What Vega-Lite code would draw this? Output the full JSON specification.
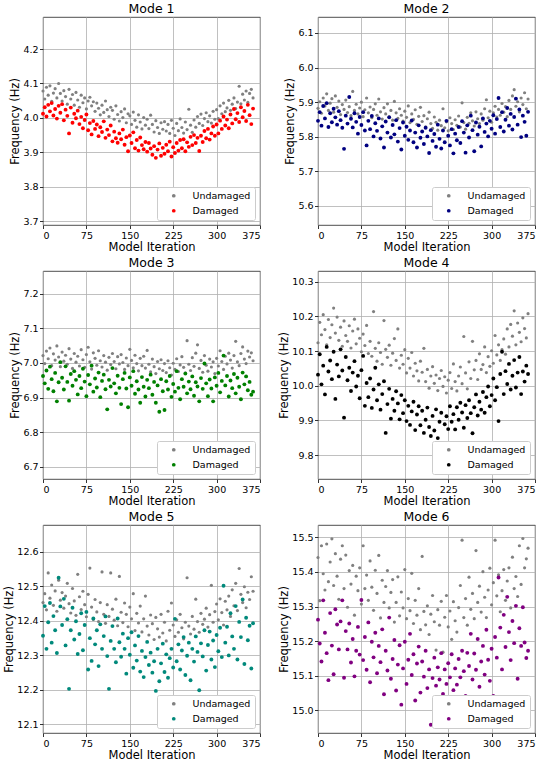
{
  "$schema": "https://vega.github.io/schema/vega-lite/v6.json",
  "padding": {"left": 3, "top": 2, "right": 0, "bottom": 0},
  "columns": 2,
  "bounds": "flush",
  "spacing": {"row": 46, "column": 58},
  "config": {
    "font": "DejaVu Sans",
    "view": {"stroke": "#222222", "strokeWidth": 0.8},
    "axis": {
      "grid": true, "gridColor": "#b0b0b0", "gridWidth": 0.8, "domain": false,
      "tickColor": "#000000", "tickSize": 3.5, "tickWidth": 0.8,
      "labelFontSize": 9.5, "labelColor": "#000000", "labelPadding": 1.5,
      "titleFontSize": 11.5, "titleFontWeight": "normal", "titleColor": "#000000", "titlePadding": 2
    },
    "title": {"fontSize": 12.5, "fontWeight": "normal", "color": "#000000", "offset": 2},
    "legend": {
      "orient": "bottom-right", "offset": 5, "padding": 4,
      "strokeColor": "#cccccc", "fillColor": "#ffffff", "cornerRadius": 2,
      "symbolType": "circle", "symbolSize": 14, "symbolOffset": 8,
      "labelFontSize": 9.5, "labelColor": "#000000", "labelOffset": 14, "rowPadding": 4
    }
  },
  "resolve": {
    "scale": {"x": "independent", "y": "independent", "color": "independent"},
    "legend": {"color": "independent"}
  },
  "datasets": {
    "m1": [
      {"i":0,"u":4.078,"d":4.012},{"i":3,"u":4.055,"d":4.031},{"i":6,"u":4.089,"d":4.004},{"i":9,"u":4.066,"d":4.038},{"i":12,"u":4.093,"d":4.019},
      {"i":15,"u":4.048,"d":4.043},{"i":18,"u":4.072,"d":4.007},{"i":21,"u":4.085,"d":4.026},{"i":24,"u":4.058,"d":3.998},{"i":27,"u":4.100,"d":4.035},
      {"i":30,"u":4.071,"d":4.015},{"i":33,"u":4.049,"d":4.040},{"i":36,"u":4.079,"d":3.993},{"i":39,"u":4.062,"d":4.024},{"i":42,"u":4.040,"d":4.006},
      {"i":45,"u":4.083,"d":3.955},{"i":48,"u":4.055,"d":4.030},{"i":51,"u":4.068,"d":3.986},{"i":54,"u":4.037,"d":4.012},{"i":57,"u":4.074,"d":3.999},
      {"i":60,"u":4.052,"d":4.021},{"i":63,"u":4.031,"d":3.982},{"i":66,"u":4.066,"d":4.003},{"i":69,"u":4.044,"d":3.970},{"i":72,"u":4.058,"d":3.994},
      {"i":75,"u":4.026,"d":4.010},{"i":78,"u":4.049,"d":3.964},{"i":81,"u":4.060,"d":3.985},{"i":84,"u":4.035,"d":3.952},{"i":87,"u":4.047,"d":3.991},
      {"i":90,"u":4.019,"d":3.968},{"i":93,"u":4.043,"d":3.981},{"i":96,"u":4.028,"d":3.947},{"i":99,"u":4.009,"d":3.973},{"i":102,"u":4.037,"d":3.959},
      {"i":105,"u":4.016,"d":3.990},{"i":108,"u":4.049,"d":3.942},{"i":111,"u":4.024,"d":3.966},{"i":114,"u":4.004,"d":3.950},{"i":117,"u":4.031,"d":3.978},
      {"i":120,"u":4.022,"d":3.932},{"i":123,"u":3.996,"d":3.960},{"i":126,"u":4.035,"d":3.941},{"i":129,"u":4.010,"d":3.928},{"i":132,"u":3.991,"d":3.955},
      {"i":135,"u":4.018,"d":3.938},{"i":138,"u":4.001,"d":3.966},{"i":141,"u":4.026,"d":3.922},{"i":144,"u":3.986,"d":3.944},{"i":147,"u":4.012,"d":3.903},
      {"i":150,"u":4.006,"d":3.949},{"i":153,"u":3.981,"d":3.927},{"i":156,"u":4.017,"d":3.958},{"i":159,"u":3.993,"d":3.912},{"i":162,"u":3.973,"d":3.936},
      {"i":165,"u":4.009,"d":3.905},{"i":168,"u":3.988,"d":3.943},{"i":171,"u":3.968,"d":3.921},{"i":174,"u":4.001,"d":3.909},{"i":177,"u":3.979,"d":3.930},
      {"i":180,"u":3.996,"d":3.902},{"i":183,"u":3.969,"d":3.927},{"i":186,"u":4.008,"d":3.911},{"i":189,"u":3.981,"d":3.893},{"i":192,"u":3.959,"d":3.918},
      {"i":195,"u":3.992,"d":3.884},{"i":198,"u":3.972,"d":3.908},{"i":201,"u":3.955,"d":3.926},{"i":204,"u":3.986,"d":3.890},{"i":207,"u":3.967,"d":3.913},
      {"i":210,"u":3.989,"d":3.896},{"i":213,"u":3.962,"d":3.922},{"i":216,"u":3.981,"d":3.903},{"i":219,"u":3.955,"d":3.931},{"i":222,"u":3.993,"d":3.888},
      {"i":225,"u":3.970,"d":3.915},{"i":228,"u":3.949,"d":3.898},{"i":231,"u":3.984,"d":3.927},{"i":234,"u":3.963,"d":3.905},{"i":237,"u":3.997,"d":3.936},
      {"i":240,"u":3.972,"d":3.912},{"i":243,"u":3.956,"d":3.938},{"i":246,"u":3.988,"d":3.903},{"i":249,"u":3.966,"d":3.929},{"i":252,"u":4.025,"d":3.916},
      {"i":255,"u":3.979,"d":3.945},{"i":258,"u":3.958,"d":3.921},{"i":261,"u":3.994,"d":3.950},{"i":264,"u":3.973,"d":3.927},{"i":267,"u":4.004,"d":3.942},
      {"i":270,"u":3.984,"d":3.904},{"i":273,"u":4.011,"d":3.948},{"i":276,"u":3.978,"d":3.930},{"i":279,"u":3.998,"d":3.962},{"i":282,"u":4.015,"d":3.941},
      {"i":285,"u":3.989,"d":3.968},{"i":288,"u":4.006,"d":3.937},{"i":291,"u":3.985,"d":3.955},{"i":294,"u":4.019,"d":3.975},{"i":297,"u":3.996,"d":3.948},
      {"i":300,"u":4.024,"d":3.981},{"i":303,"u":3.998,"d":3.955},{"i":306,"u":4.035,"d":3.992},{"i":309,"u":4.012,"d":3.968},{"i":312,"u":4.043,"d":4.004},
      {"i":315,"u":4.018,"d":3.978},{"i":318,"u":4.029,"d":3.995},{"i":321,"u":4.051,"d":3.970},{"i":324,"u":4.022,"d":4.010},{"i":327,"u":4.040,"d":3.984},
      {"i":330,"u":4.058,"d":4.026},{"i":333,"u":4.027,"d":3.996},{"i":336,"u":4.046,"d":4.014},{"i":339,"u":4.092,"d":3.988},{"i":342,"u":4.041,"d":4.031},
      {"i":345,"u":4.069,"d":4.002},{"i":348,"u":4.052,"d":4.020},{"i":351,"u":4.078,"d":3.991},{"i":354,"u":4.045,"d":4.038},{"i":357,"u":4.071,"d":4.008},
      {"i":360,"u":4.083,"d":3.982},{"i":363,"u":4.058,"d":4.027}
    ],
    "m2": [
      {"i":0,"u":5.882,"d":5.846},{"i":3,"u":5.901,"d":5.871},{"i":6,"u":5.868,"d":5.832},{"i":9,"u":5.912,"d":5.889},{"i":12,"u":5.889,"d":5.853},
      {"i":15,"u":5.924,"d":5.897},{"i":18,"u":5.876,"d":5.828},{"i":21,"u":5.897,"d":5.868},{"i":24,"u":5.910,"d":5.842},{"i":27,"u":5.871,"d":5.881},
      {"i":30,"u":5.918,"d":5.856},{"i":33,"u":5.885,"d":5.835},{"i":36,"u":5.903,"d":5.874},{"i":39,"u":5.864,"d":5.848},{"i":42,"u":5.893,"d":5.826},
      {"i":45,"u":5.879,"d":5.765},{"i":48,"u":5.906,"d":5.861},{"i":51,"u":5.870,"d":5.838},{"i":54,"u":5.887,"d":5.915},{"i":57,"u":5.861,"d":5.852},
      {"i":60,"u":5.931,"d":5.827},{"i":63,"u":5.876,"d":5.868},{"i":66,"u":5.894,"d":5.843},{"i":69,"u":5.866,"d":5.809},{"i":72,"u":5.883,"d":5.857},
      {"i":75,"u":5.900,"d":5.834},{"i":78,"u":5.858,"d":5.871},{"i":81,"u":5.878,"d":5.818},{"i":84,"u":5.912,"d":5.775},{"i":87,"u":5.869,"d":5.846},
      {"i":90,"u":5.886,"d":5.822},{"i":93,"u":5.855,"d":5.860},{"i":96,"u":5.879,"d":5.801},{"i":99,"u":5.895,"d":5.839},{"i":102,"u":5.862,"d":5.817},
      {"i":105,"u":5.909,"d":5.853},{"i":108,"u":5.872,"d":5.795},{"i":111,"u":5.851,"d":5.830},{"i":114,"u":5.884,"d":5.769},{"i":117,"u":5.866,"d":5.844},
      {"i":120,"u":5.895,"d":5.812},{"i":123,"u":5.858,"d":5.856},{"i":126,"u":5.876,"d":5.798},{"i":129,"u":5.848,"d":5.834},{"i":132,"u":5.902,"d":5.807},
      {"i":135,"u":5.869,"d":5.848},{"i":138,"u":5.853,"d":5.786},{"i":141,"u":5.881,"d":5.825},{"i":144,"u":5.862,"d":5.763},{"i":147,"u":5.845,"d":5.841},
      {"i":150,"u":5.874,"d":5.803},{"i":153,"u":5.856,"d":5.829},{"i":156,"u":5.889,"d":5.791},{"i":159,"u":5.841,"d":5.818},{"i":162,"u":5.866,"d":5.847},
      {"i":165,"u":5.850,"d":5.784},{"i":168,"u":5.878,"d":5.812},{"i":171,"u":5.836,"d":5.769},{"i":174,"u":5.859,"d":5.833},{"i":177,"u":5.885,"d":5.797},
      {"i":180,"u":5.844,"d":5.815},{"i":183,"u":5.861,"d":5.779},{"i":186,"u":5.829,"d":5.826},{"i":189,"u":5.852,"d":5.801},{"i":192,"u":5.871,"d":5.753},
      {"i":195,"u":5.838,"d":5.819},{"i":198,"u":5.824,"d":5.788},{"i":201,"u":5.857,"d":5.808},{"i":204,"u":5.842,"d":5.771},{"i":207,"u":5.819,"d":5.835},
      {"i":210,"u":5.848,"d":5.794},{"i":213,"u":5.832,"d":5.766},{"i":216,"u":5.881,"d":5.818},{"i":219,"u":5.826,"d":5.784},{"i":222,"u":5.843,"d":5.846},
      {"i":225,"u":5.817,"d":5.803},{"i":228,"u":5.855,"d":5.775},{"i":231,"u":5.838,"d":5.822},{"i":234,"u":5.821,"d":5.752},{"i":237,"u":5.849,"d":5.809},
      {"i":240,"u":5.833,"d":5.790},{"i":243,"u":5.860,"d":5.828},{"i":246,"u":5.828,"d":5.782},{"i":249,"u":5.898,"d":5.845},{"i":252,"u":5.841,"d":5.812},
      {"i":255,"u":5.822,"d":5.754},{"i":258,"u":5.856,"d":5.833},{"i":261,"u":5.839,"d":5.798},{"i":264,"u":5.869,"d":5.861},{"i":267,"u":5.846,"d":5.819},
      {"i":270,"u":5.831,"d":5.758},{"i":273,"u":5.872,"d":5.841},{"i":276,"u":5.852,"d":5.806},{"i":279,"u":5.838,"d":5.829},{"i":282,"u":5.866,"d":5.772},
      {"i":285,"u":5.848,"d":5.853},{"i":288,"u":5.881,"d":5.814},{"i":291,"u":5.907,"d":5.838},{"i":294,"u":5.855,"d":5.801},{"i":297,"u":5.874,"d":5.846},
      {"i":300,"u":5.842,"d":5.823},{"i":303,"u":5.869,"d":5.862},{"i":306,"u":5.888,"d":5.809},{"i":309,"u":5.857,"d":5.851},{"i":312,"u":5.879,"d":5.912},
      {"i":315,"u":5.862,"d":5.828},{"i":318,"u":5.896,"d":5.871},{"i":321,"u":5.871,"d":5.815},{"i":324,"u":5.887,"d":5.849},{"i":327,"u":5.858,"d":5.883},
      {"i":330,"u":5.905,"d":5.832},{"i":333,"u":5.879,"d":5.866},{"i":336,"u":5.918,"d":5.821},{"i":339,"u":5.936,"d":5.857},{"i":342,"u":5.888,"d":5.910},
      {"i":345,"u":5.901,"d":5.835},{"i":348,"u":5.872,"d":5.879},{"i":351,"u":5.912,"d":5.799},{"i":354,"u":5.893,"d":5.861},{"i":357,"u":5.927,"d":5.843},
      {"i":360,"u":5.881,"d":5.803},{"i":363,"u":5.909,"d":5.872}
    ],
    "m3": [
      {"i":0,"u":7.021,"d":6.962},{"i":3,"u":6.998,"d":6.941},{"i":6,"u":7.034,"d":6.978},{"i":9,"u":7.012,"d":6.925},{"i":12,"u":7.043,"d":6.989},
      {"i":15,"u":6.992,"d":6.953},{"i":18,"u":7.026,"d":6.918},{"i":21,"u":7.008,"d":6.971},{"i":24,"u":7.049,"d":6.889},{"i":27,"u":7.017,"d":6.944},
      {"i":30,"u":6.989,"d":7.002},{"i":33,"u":7.031,"d":6.957},{"i":36,"u":7.005,"d":6.923},{"i":39,"u":7.022,"d":6.990},{"i":42,"u":6.996,"d":6.945},
      {"i":45,"u":7.041,"d":6.891},{"i":48,"u":7.011,"d":6.968},{"i":51,"u":6.984,"d":6.934},{"i":54,"u":7.027,"d":6.976},{"i":57,"u":7.002,"d":6.951},
      {"i":60,"u":7.019,"d":6.909},{"i":63,"u":6.991,"d":6.962},{"i":66,"u":7.038,"d":6.927},{"i":69,"u":7.009,"d":6.983},{"i":72,"u":6.987,"d":6.946},
      {"i":75,"u":7.024,"d":6.904},{"i":78,"u":7.045,"d":6.965},{"i":81,"u":7.003,"d":6.938},{"i":84,"u":6.982,"d":6.992},{"i":87,"u":7.029,"d":6.917},
      {"i":90,"u":7.013,"d":6.955},{"i":93,"u":6.993,"d":6.929},{"i":96,"u":7.035,"d":6.972},{"i":99,"u":7.006,"d":6.901},{"i":102,"u":6.988,"d":6.948},
      {"i":105,"u":7.021,"d":6.966},{"i":108,"u":7.002,"d":6.924},{"i":111,"u":6.979,"d":6.866},{"i":114,"u":7.016,"d":6.951},{"i":117,"u":6.995,"d":6.932},
      {"i":120,"u":7.027,"d":6.985},{"i":123,"u":7.004,"d":6.941},{"i":126,"u":6.983,"d":6.912},{"i":129,"u":7.018,"d":6.963},{"i":132,"u":6.997,"d":6.928},
      {"i":135,"u":7.024,"d":6.881},{"i":138,"u":7.001,"d":6.953},{"i":141,"u":6.981,"d":6.971},{"i":144,"u":7.014,"d":6.926},{"i":147,"u":6.992,"d":6.872},
      {"i":150,"u":7.039,"d":6.958},{"i":153,"u":7.007,"d":6.934},{"i":156,"u":6.986,"d":6.976},{"i":159,"u":7.022,"d":6.911},{"i":162,"u":6.998,"d":6.947},
      {"i":165,"u":6.977,"d":6.923},{"i":168,"u":7.013,"d":6.885},{"i":171,"u":6.992,"d":6.959},{"i":174,"u":7.019,"d":6.931},{"i":177,"u":6.985,"d":6.903},
      {"i":180,"u":7.036,"d":6.951},{"i":183,"u":6.996,"d":6.927},{"i":186,"u":6.974,"d":6.966},{"i":189,"u":7.011,"d":6.908},{"i":192,"u":6.989,"d":6.945},
      {"i":195,"u":6.969,"d":6.885},{"i":198,"u":7.004,"d":6.935},{"i":201,"u":6.983,"d":6.859},{"i":204,"u":7.009,"d":6.953},{"i":207,"u":6.978,"d":6.918},
      {"i":210,"u":6.998,"d":6.864},{"i":213,"u":6.972,"d":6.947},{"i":216,"u":7.006,"d":6.923},{"i":219,"u":6.986,"d":6.962},{"i":222,"u":6.965,"d":6.902},
      {"i":225,"u":6.999,"d":6.939},{"i":228,"u":6.981,"d":6.917},{"i":231,"u":7.012,"d":6.976},{"i":234,"u":6.975,"d":6.928},{"i":237,"u":6.994,"d":6.895},
      {"i":240,"u":7.018,"d":6.953},{"i":243,"u":6.987,"d":6.931},{"i":246,"u":6.971,"d":6.969},{"i":249,"u":7.064,"d":6.912},{"i":252,"u":6.996,"d":6.946},
      {"i":255,"u":6.978,"d":6.924},{"i":258,"u":7.015,"d":6.961},{"i":261,"u":6.990,"d":6.905},{"i":264,"u":7.028,"d":6.944},{"i":267,"u":7.052,"d":6.932},
      {"i":270,"u":6.984,"d":6.889},{"i":273,"u":7.007,"d":6.956},{"i":276,"u":6.973,"d":6.925},{"i":279,"u":7.021,"d":6.998},{"i":282,"u":6.993,"d":6.941},
      {"i":285,"u":6.976,"d":6.904},{"i":288,"u":7.011,"d":6.952},{"i":291,"u":6.988,"d":6.926},{"i":294,"u":7.003,"d":6.889},{"i":297,"u":6.969,"d":6.958},
      {"i":300,"u":7.013,"d":6.934},{"i":303,"u":6.991,"d":6.971},{"i":306,"u":7.035,"d":6.915},{"i":309,"u":7.004,"d":6.948},{"i":312,"u":6.981,"d":7.021},
      {"i":315,"u":7.019,"d":6.935},{"i":318,"u":6.997,"d":6.962},{"i":321,"u":7.028,"d":6.903},{"i":324,"u":7.008,"d":6.949},{"i":327,"u":6.985,"d":6.927},
      {"i":330,"u":7.021,"d":6.968},{"i":333,"u":7.062,"d":6.912},{"i":336,"u":7.003,"d":6.957},{"i":339,"u":6.992,"d":6.931},{"i":342,"u":7.027,"d":6.895},
      {"i":345,"u":7.046,"d":6.972},{"i":348,"u":7.011,"d":6.938},{"i":351,"u":6.998,"d":6.961},{"i":354,"u":7.034,"d":6.921},{"i":357,"u":7.017,"d":6.945},
      {"i":360,"u":7.029,"d":6.908},{"i":363,"u":7.006,"d":6.917}
    ],
    "m4": [
      {"i":0,"u":10.124,"d":10.032},{"i":3,"u":10.183,"d":10.091},{"i":6,"u":10.147,"d":10.004},{"i":9,"u":10.205,"d":10.058},{"i":12,"u":10.162,"d":9.975},
      {"i":15,"u":10.118,"d":10.112},{"i":18,"u":10.191,"d":10.041},{"i":21,"u":10.139,"d":10.073},{"i":24,"u":10.176,"d":10.019},{"i":27,"u":10.224,"d":10.098},
      {"i":30,"u":10.152,"d":9.962},{"i":33,"u":10.198,"d":10.061},{"i":36,"u":10.131,"d":10.027},{"i":39,"u":10.169,"d":10.105},{"i":42,"u":10.114,"d":10.044},
      {"i":45,"u":10.187,"d":9.908},{"i":48,"u":10.145,"d":10.083},{"i":51,"u":10.128,"d":10.016},{"i":54,"u":10.173,"d":10.052},{"i":57,"u":10.109,"d":9.985},
      {"i":60,"u":10.158,"d":10.038},{"i":63,"u":10.192,"d":10.071},{"i":66,"u":10.121,"d":9.998},{"i":69,"u":10.164,"d":10.029},{"i":72,"u":10.137,"d":9.964},
      {"i":75,"u":10.098,"d":10.045},{"i":78,"u":10.149,"d":10.086},{"i":81,"u":10.116,"d":9.942},{"i":84,"u":10.174,"d":10.008},{"i":87,"u":10.093,"d":9.967},
      {"i":90,"u":10.128,"d":10.021},{"i":93,"u":10.085,"d":9.936},{"i":96,"u":10.214,"d":9.989},{"i":99,"u":10.108,"d":10.052},{"i":102,"u":10.071,"d":9.958},
      {"i":105,"u":10.124,"d":10.004},{"i":108,"u":10.096,"d":9.931},{"i":111,"u":10.062,"d":9.976},{"i":114,"u":10.188,"d":10.013},{"i":117,"u":10.105,"d":9.864},
      {"i":120,"u":10.082,"d":9.947},{"i":123,"u":10.117,"d":9.991},{"i":126,"u":10.059,"d":9.905},{"i":129,"u":10.094,"d":9.962},{"i":132,"u":10.136,"d":9.928},
      {"i":135,"u":10.073,"d":9.984},{"i":138,"u":10.164,"d":9.949},{"i":141,"u":10.051,"d":9.903},{"i":144,"u":10.088,"d":9.973},{"i":147,"u":10.062,"d":9.921},
      {"i":150,"u":10.104,"d":9.958},{"i":153,"u":10.037,"d":9.898},{"i":156,"u":10.079,"d":9.942},{"i":159,"u":10.051,"d":9.887},{"i":162,"u":10.096,"d":9.926},
      {"i":165,"u":10.028,"d":9.954},{"i":168,"u":10.065,"d":9.872},{"i":171,"u":10.043,"d":9.917},{"i":174,"u":10.014,"d":9.941},{"i":177,"u":10.071,"d":9.886},
      {"i":180,"u":10.039,"d":9.928},{"i":183,"u":10.108,"d":9.864},{"i":186,"u":10.012,"d":9.902},{"i":189,"u":10.047,"d":9.937},{"i":192,"u":9.993,"d":9.881},
      {"i":195,"u":10.028,"d":9.855},{"i":198,"u":10.055,"d":9.913},{"i":201,"u":10.007,"d":9.871},{"i":204,"u":10.031,"d":9.932},{"i":207,"u":9.986,"d":9.849},
      {"i":210,"u":10.021,"d":9.896},{"i":213,"u":10.044,"d":9.922},{"i":216,"u":9.998,"d":9.834},{"i":219,"u":10.026,"d":9.889},{"i":222,"u":9.979,"d":9.912},
      {"i":225,"u":10.016,"d":9.875},{"i":228,"u":10.038,"d":9.941},{"i":231,"u":9.992,"d":9.896},{"i":234,"u":10.063,"d":9.918},{"i":237,"u":10.012,"d":9.874},
      {"i":240,"u":9.985,"d":9.938},{"i":243,"u":10.028,"d":9.902},{"i":246,"u":10.054,"d":9.951},{"i":249,"u":10.006,"d":9.923},{"i":252,"u":10.142,"d":9.879},
      {"i":255,"u":10.037,"d":9.944},{"i":258,"u":9.991,"d":9.907},{"i":261,"u":10.069,"d":9.958},{"i":264,"u":10.021,"d":9.921},{"i":267,"u":10.128,"d":9.863},
      {"i":270,"u":10.046,"d":9.938},{"i":273,"u":10.073,"d":9.975},{"i":276,"u":10.018,"d":9.914},{"i":279,"u":10.092,"d":9.954},{"i":282,"u":10.047,"d":9.931},
      {"i":285,"u":10.061,"d":9.982},{"i":288,"u":10.112,"d":9.922},{"i":291,"u":10.038,"d":9.967},{"i":294,"u":10.084,"d":9.998},{"i":297,"u":10.056,"d":9.941},
      {"i":300,"u":10.101,"d":9.973},{"i":303,"u":10.065,"d":10.021},{"i":306,"u":10.145,"d":9.958},{"i":309,"u":10.089,"d":9.996},{"i":312,"u":10.118,"d":9.898},
      {"i":315,"u":10.073,"d":10.034},{"i":318,"u":10.104,"d":10.098},{"i":321,"u":10.135,"d":9.976},{"i":324,"u":10.091,"d":10.042},{"i":327,"u":10.164,"d":10.005},
      {"i":330,"u":10.112,"d":10.063},{"i":333,"u":10.177,"d":9.989},{"i":336,"u":10.143,"d":10.029},{"i":339,"u":10.216,"d":10.074},{"i":342,"u":10.118,"d":9.995},
      {"i":345,"u":10.181,"d":10.038},{"i":348,"u":10.154,"d":10.083},{"i":351,"u":10.127,"d":9.976},{"i":354,"u":10.196,"d":10.041},{"i":357,"u":10.165,"d":10.012},
      {"i":360,"u":10.138,"d":10.058},{"i":363,"u":10.208,"d":10.034}
    ],
    "m5": [
      {"i":0,"u":12.452,"d":12.356},{"i":3,"u":12.478,"d":12.442},{"i":6,"u":12.431,"d":12.318},{"i":9,"u":12.538,"d":12.395},{"i":12,"u":12.465,"d":12.451},
      {"i":15,"u":12.503,"d":12.336},{"i":18,"u":12.444,"d":12.413},{"i":21,"u":12.486,"d":12.372},{"i":24,"u":12.427,"d":12.306},{"i":27,"u":12.517,"d":12.524},
      {"i":30,"u":12.459,"d":12.441},{"i":33,"u":12.481,"d":12.387},{"i":36,"u":12.436,"d":12.463},{"i":39,"u":12.471,"d":12.328},{"i":42,"u":12.508,"d":12.404},
      {"i":45,"u":12.449,"d":12.202},{"i":48,"u":12.422,"d":12.372},{"i":51,"u":12.493,"d":12.437},{"i":54,"u":12.457,"d":12.345},{"i":57,"u":12.415,"d":12.398},
      {"i":60,"u":12.534,"d":12.303},{"i":63,"u":12.469,"d":12.361},{"i":66,"u":12.432,"d":12.421},{"i":69,"u":12.485,"d":12.314},{"i":72,"u":12.446,"d":12.387},
      {"i":75,"u":12.411,"d":12.425},{"i":78,"u":12.476,"d":12.258},{"i":81,"u":12.552,"d":12.349},{"i":84,"u":12.439,"d":12.283},{"i":87,"u":12.403,"d":12.406},
      {"i":90,"u":12.461,"d":12.331},{"i":93,"u":12.425,"d":12.372},{"i":96,"u":12.397,"d":12.268},{"i":99,"u":12.452,"d":12.389},{"i":102,"u":12.541,"d":12.318},
      {"i":105,"u":12.418,"d":12.355},{"i":108,"u":12.392,"d":12.412},{"i":111,"u":12.446,"d":12.297},{"i":114,"u":12.412,"d":12.202},{"i":117,"u":12.538,"d":12.341},
      {"i":120,"u":12.433,"d":12.384},{"i":123,"u":12.401,"d":12.318},{"i":126,"u":12.462,"d":12.279},{"i":129,"u":12.385,"d":12.406},{"i":132,"u":12.528,"d":12.337},
      {"i":135,"u":12.424,"d":12.295},{"i":138,"u":12.394,"d":12.362},{"i":141,"u":12.451,"d":12.318},{"i":144,"u":12.418,"d":12.246},{"i":147,"u":12.382,"d":12.349},
      {"i":150,"u":12.439,"d":12.301},{"i":153,"u":12.405,"d":12.366},{"i":156,"u":12.478,"d":12.263},{"i":159,"u":12.371,"d":12.328},{"i":162,"u":12.421,"d":12.284},
      {"i":165,"u":12.393,"d":12.355},{"i":168,"u":12.442,"d":12.252},{"i":171,"u":12.367,"d":12.312},{"i":174,"u":12.405,"d":12.236},{"i":177,"u":12.471,"d":12.294},
      {"i":180,"u":12.384,"d":12.338},{"i":183,"u":12.358,"d":12.271},{"i":186,"u":12.416,"d":12.307},{"i":189,"u":12.391,"d":12.249},{"i":192,"u":12.345,"d":12.282},
      {"i":195,"u":12.409,"d":12.196},{"i":198,"u":12.376,"d":12.318},{"i":201,"u":12.352,"d":12.224},{"i":204,"u":12.418,"d":12.276},{"i":207,"u":12.364,"d":12.333},
      {"i":210,"u":12.395,"d":12.251},{"i":213,"u":12.341,"d":12.302},{"i":216,"u":12.427,"d":12.234},{"i":219,"u":12.372,"d":12.291},{"i":222,"u":12.451,"d":12.318},
      {"i":225,"u":12.387,"d":12.264},{"i":228,"u":12.354,"d":12.405},{"i":231,"u":12.402,"d":12.282},{"i":234,"u":12.366,"d":12.331},{"i":237,"u":12.418,"d":12.258},
      {"i":240,"u":12.379,"d":12.313},{"i":243,"u":12.347,"d":12.352},{"i":246,"u":12.395,"d":12.242},{"i":249,"u":12.524,"d":12.298},{"i":252,"u":12.384,"d":12.336},
      {"i":255,"u":12.361,"d":12.227},{"i":258,"u":12.412,"d":12.318},{"i":261,"u":12.375,"d":12.281},{"i":264,"u":12.462,"d":12.354},{"i":267,"u":12.397,"d":12.309},
      {"i":270,"u":12.366,"d":12.198},{"i":273,"u":12.421,"d":12.334},{"i":276,"u":12.389,"d":12.296},{"i":279,"u":12.404,"d":12.372},{"i":282,"u":12.436,"d":12.255},
      {"i":285,"u":12.381,"d":12.329},{"i":288,"u":12.417,"d":12.368},{"i":291,"u":12.502,"d":12.287},{"i":294,"u":12.395,"d":12.342},{"i":297,"u":12.426,"d":12.265},
      {"i":300,"u":12.448,"d":12.358},{"i":303,"u":12.402,"d":12.311},{"i":306,"u":12.463,"d":12.379},{"i":309,"u":12.423,"d":12.294},{"i":312,"u":12.387,"d":12.501},
      {"i":315,"u":12.456,"d":12.336},{"i":318,"u":12.431,"d":12.382},{"i":321,"u":12.471,"d":12.299},{"i":324,"u":12.412,"d":12.421},{"i":327,"u":12.489,"d":12.354},
      {"i":330,"u":12.443,"d":12.318},{"i":333,"u":12.508,"d":12.442},{"i":336,"u":12.429,"d":12.287},{"i":339,"u":12.551,"d":12.396},{"i":342,"u":12.476,"d":12.352},
      {"i":345,"u":12.452,"d":12.461},{"i":348,"u":12.498,"d":12.274},{"i":351,"u":12.437,"d":12.408},{"i":354,"u":12.482,"d":12.343},{"i":357,"u":12.461,"d":12.385},
      {"i":360,"u":12.527,"d":12.261},{"i":363,"u":12.485,"d":12.392}
    ],
    "m6": [
      {"i":0,"u":15.442,"d":15.262},{"i":3,"u":15.317,"d":15.193},{"i":6,"u":15.476,"d":15.141},{"i":9,"u":15.395,"d":15.318},{"i":12,"u":15.348,"d":15.224},
      {"i":15,"u":15.481,"d":15.165},{"i":18,"u":15.372,"d":15.087},{"i":21,"u":15.429,"d":15.281},{"i":24,"u":15.496,"d":15.187},{"i":27,"u":15.361,"d":15.104},
      {"i":30,"u":15.453,"d":15.292},{"i":33,"u":15.388,"d":15.248},{"i":36,"u":15.321,"d":15.176},{"i":39,"u":15.437,"d":15.257},{"i":42,"u":15.476,"d":15.318},
      {"i":45,"u":15.352,"d":15.094},{"i":48,"u":15.449,"d":15.229},{"i":51,"u":15.298,"d":15.176},{"i":54,"u":15.404,"d":15.251},{"i":57,"u":15.365,"d":15.138},
      {"i":60,"u":15.419,"d":15.206},{"i":63,"u":15.275,"d":15.098},{"i":66,"u":15.388,"d":15.172},{"i":69,"u":15.346,"d":15.241},{"i":72,"u":15.412,"d":15.161},
      {"i":75,"u":15.307,"d":15.319},{"i":78,"u":15.476,"d":15.145},{"i":81,"u":15.352,"d":15.212},{"i":84,"u":15.391,"d":15.117},{"i":87,"u":15.318,"d":15.254},
      {"i":90,"u":15.432,"d":15.081},{"i":93,"u":15.356,"d":15.198},{"i":96,"u":15.289,"d":15.153},{"i":99,"u":15.405,"d":15.224},{"i":102,"u":15.338,"d":15.107},
      {"i":105,"u":15.448,"d":15.186},{"i":108,"u":15.267,"d":15.139},{"i":111,"u":15.376,"d":15.234},{"i":114,"u":15.312,"d":15.046},{"i":117,"u":15.358,"d":15.172},
      {"i":120,"u":15.404,"d":15.115},{"i":123,"u":15.296,"d":15.268},{"i":126,"u":15.341,"d":15.091},{"i":129,"u":15.378,"d":15.148},{"i":132,"u":15.255,"d":15.203},
      {"i":135,"u":15.312,"d":15.057},{"i":138,"u":15.386,"d":15.132},{"i":141,"u":15.273,"d":15.188},{"i":144,"u":15.342,"d":15.016},{"i":147,"u":15.296,"d":15.121},
      {"i":150,"u":15.407,"d":15.198},{"i":153,"u":15.265,"d":15.076},{"i":156,"u":15.323,"d":15.146},{"i":159,"u":15.288,"d":15.221},{"i":162,"u":15.396,"d":15.102},
      {"i":165,"u":15.251,"d":15.162},{"i":168,"u":15.318,"d":15.028},{"i":171,"u":15.275,"d":15.135},{"i":174,"u":15.352,"d":15.184},{"i":177,"u":15.233,"d":15.051},
      {"i":180,"u":15.445,"d":15.141},{"i":183,"u":15.286,"d":15.097},{"i":186,"u":15.247,"d":15.172},{"i":189,"u":15.302,"d":15.064},{"i":192,"u":15.219,"d":15.118},
      {"i":195,"u":15.278,"d":14.958},{"i":198,"u":15.332,"d":15.093},{"i":201,"u":15.256,"d":15.152},{"i":204,"u":15.174,"d":15.071},{"i":207,"u":15.291,"d":15.124},
      {"i":210,"u":15.246,"d":15.089},{"i":213,"u":15.315,"d":15.165},{"i":216,"u":15.168,"d":15.047},{"i":219,"u":15.269,"d":15.118},{"i":222,"u":15.332,"d":15.076},
      {"i":225,"u":15.241,"d":15.136},{"i":228,"u":15.287,"d":15.095},{"i":231,"u":15.205,"d":15.162},{"i":234,"u":15.314,"d":15.058},{"i":237,"u":15.259,"d":15.121},
      {"i":240,"u":15.226,"d":15.074},{"i":243,"u":15.297,"d":15.148},{"i":246,"u":15.361,"d":15.095},{"i":249,"u":15.492,"d":15.172},{"i":252,"u":15.268,"d":15.113},
      {"i":255,"u":15.323,"d":15.041},{"i":258,"u":15.246,"d":15.166},{"i":261,"u":15.385,"d":15.128},{"i":264,"u":15.292,"d":15.221},{"i":267,"u":15.338,"d":15.089},
      {"i":270,"u":15.265,"d":15.164},{"i":273,"u":15.462,"d":15.117},{"i":276,"u":15.312,"d":15.206},{"i":279,"u":15.359,"d":15.068},{"i":282,"u":15.284,"d":15.141},
      {"i":285,"u":15.401,"d":15.186},{"i":288,"u":15.327,"d":15.103},{"i":291,"u":15.268,"d":15.233},{"i":294,"u":15.348,"d":15.146},{"i":297,"u":15.411,"d":15.085},
      {"i":300,"u":15.305,"d":15.178},{"i":303,"u":15.369,"d":15.041},{"i":306,"u":15.492,"d":15.212},{"i":309,"u":15.331,"d":15.152},{"i":312,"u":15.392,"d":15.384},
      {"i":315,"u":15.285,"d":15.239},{"i":318,"u":15.346,"d":15.118},{"i":321,"u":15.407,"d":15.276},{"i":324,"u":15.318,"d":15.183},{"i":327,"u":15.374,"d":15.328},
      {"i":330,"u":15.412,"d":15.226},{"i":333,"u":15.296,"d":15.145},{"i":336,"u":15.443,"d":15.258},{"i":339,"u":15.352,"d":15.194},{"i":342,"u":15.387,"d":15.302},
      {"i":345,"u":15.329,"d":15.091},{"i":348,"u":15.476,"d":15.237},{"i":351,"u":15.364,"d":15.186},{"i":354,"u":15.497,"d":15.298},{"i":357,"u":15.412,"d":15.196},
      {"i":360,"u":15.438,"d":15.151},{"i":363,"u":15.469,"d":15.172}
    ]
  },
  "concat": [
    {
      "title": "Mode 1", "width": 217, "height": 208, "data": {"name": "m1"},
      "encoding": {"x": {"field": "i", "type": "quantitative", "title": "Model Iteration", "scale": {"domain": [0, 375], "nice": false}, "axis": {"values": [0, 75, 150, 225, 300, 375]}}},
      "layer": [
        {"mark": {"type": "circle", "size": 10, "opacity": 1},
         "encoding": {"y": {"field": "u", "type": "quantitative", "title": "Frequency (Hz)", "scale": {"domain": [3.689, 4.293], "nice": false, "zero": false}, "axis": {"values": [3.7, 3.8, 3.9, 4.0, 4.1, 4.2], "format": ".1f"}},
                      "color": {"datum": "Undamaged", "scale": {"domain": ["Undamaged", "Damaged"], "range": ["#808080", "#ff0000"]}, "legend": {"title": null}}}},
        {"mark": {"type": "circle", "size": 15, "opacity": 1},
         "encoding": {"y": {"field": "d", "type": "quantitative", "title": "Frequency (Hz)"}, "color": {"datum": "Damaged"}}}
      ]
    },
    {
      "title": "Mode 2", "width": 217, "height": 208, "data": {"name": "m2"},
      "encoding": {"x": {"field": "i", "type": "quantitative", "title": "Model Iteration", "scale": {"domain": [0, 375], "nice": false}, "axis": {"values": [0, 75, 150, 225, 300, 375]}}},
      "layer": [
        {"mark": {"type": "circle", "size": 10, "opacity": 1},
         "encoding": {"y": {"field": "u", "type": "quantitative", "title": "Frequency (Hz)", "scale": {"domain": [5.545, 6.146], "nice": false, "zero": false}, "axis": {"values": [5.6, 5.7, 5.8, 5.9, 6.0, 6.1], "format": ".1f"}},
                      "color": {"datum": "Undamaged", "scale": {"domain": ["Undamaged", "Damaged"], "range": ["#808080", "#000080"]}, "legend": {"title": null}}}},
        {"mark": {"type": "circle", "size": 15, "opacity": 1},
         "encoding": {"y": {"field": "d", "type": "quantitative", "title": "Frequency (Hz)"}, "color": {"datum": "Damaged"}}}
      ]
    },
    {
      "title": "Mode 3", "width": 217, "height": 208, "data": {"name": "m3"},
      "encoding": {"x": {"field": "i", "type": "quantitative", "title": "Model Iteration", "scale": {"domain": [0, 375], "nice": false}, "axis": {"values": [0, 75, 150, 225, 300, 375]}}},
      "layer": [
        {"mark": {"type": "circle", "size": 10, "opacity": 1},
         "encoding": {"y": {"field": "u", "type": "quantitative", "title": "Frequency (Hz)", "scale": {"domain": [6.665, 7.265], "nice": false, "zero": false}, "axis": {"values": [6.7, 6.8, 6.9, 7.0, 7.1, 7.2], "format": ".1f"}},
                      "color": {"datum": "Undamaged", "scale": {"domain": ["Undamaged", "Damaged"], "range": ["#808080", "#008000"]}, "legend": {"title": null}}}},
        {"mark": {"type": "circle", "size": 15, "opacity": 1},
         "encoding": {"y": {"field": "d", "type": "quantitative", "title": "Frequency (Hz)"}, "color": {"datum": "Damaged"}}}
      ]
    },
    {
      "title": "Mode 4", "width": 217, "height": 208, "data": {"name": "m4"},
      "encoding": {"x": {"field": "i", "type": "quantitative", "title": "Model Iteration", "scale": {"domain": [0, 375], "nice": false}, "axis": {"values": [0, 75, 150, 225, 300, 375]}}},
      "layer": [
        {"mark": {"type": "circle", "size": 10, "opacity": 1},
         "encoding": {"y": {"field": "u", "type": "quantitative", "title": "Frequency (Hz)", "scale": {"domain": [9.731, 10.331], "nice": false, "zero": false}, "axis": {"values": [9.8, 9.9, 10.0, 10.1, 10.2, 10.3], "format": ".1f"}},
                      "color": {"datum": "Undamaged", "scale": {"domain": ["Undamaged", "Damaged"], "range": ["#808080", "#000000"]}, "legend": {"title": null}}}},
        {"mark": {"type": "circle", "size": 15, "opacity": 1},
         "encoding": {"y": {"field": "d", "type": "quantitative", "title": "Frequency (Hz)"}, "color": {"datum": "Damaged"}}}
      ]
    },
    {
      "title": "Mode 5", "width": 217, "height": 208, "data": {"name": "m5"},
      "encoding": {"x": {"field": "i", "type": "quantitative", "title": "Model Iteration", "scale": {"domain": [0, 375], "nice": false}, "axis": {"values": [0, 75, 150, 225, 300, 375]}}},
      "layer": [
        {"mark": {"type": "circle", "size": 10, "opacity": 1},
         "encoding": {"y": {"field": "u", "type": "quantitative", "title": "Frequency (Hz)", "scale": {"domain": [12.074, 12.677], "nice": false, "zero": false}, "axis": {"values": [12.1, 12.2, 12.3, 12.4, 12.5, 12.6], "format": ".1f"}},
                      "color": {"datum": "Undamaged", "scale": {"domain": ["Undamaged", "Damaged"], "range": ["#808080", "#00897b"]}, "legend": {"title": null}}}},
        {"mark": {"type": "circle", "size": 15, "opacity": 1},
         "encoding": {"y": {"field": "d", "type": "quantitative", "title": "Frequency (Hz)"}, "color": {"datum": "Damaged"}}}
      ]
    },
    {
      "title": "Mode 6", "width": 217, "height": 208, "data": {"name": "m6"},
      "encoding": {"x": {"field": "i", "type": "quantitative", "title": "Model Iteration", "scale": {"domain": [0, 375], "nice": false}, "axis": {"values": [0, 75, 150, 225, 300, 375]}}},
      "layer": [
        {"mark": {"type": "circle", "size": 10, "opacity": 1},
         "encoding": {"y": {"field": "u", "type": "quantitative", "title": "Frequency (Hz)", "scale": {"domain": [14.934, 15.536], "nice": false, "zero": false}, "axis": {"values": [15.0, 15.1, 15.2, 15.3, 15.4, 15.5], "format": ".1f"}},
                      "color": {"datum": "Undamaged", "scale": {"domain": ["Undamaged", "Damaged"], "range": ["#808080", "#800080"]}, "legend": {"title": null}}}},
        {"mark": {"type": "circle", "size": 15, "opacity": 1},
         "encoding": {"y": {"field": "d", "type": "quantitative", "title": "Frequency (Hz)"}, "color": {"datum": "Damaged"}}}
      ]
    }
  ]
}
